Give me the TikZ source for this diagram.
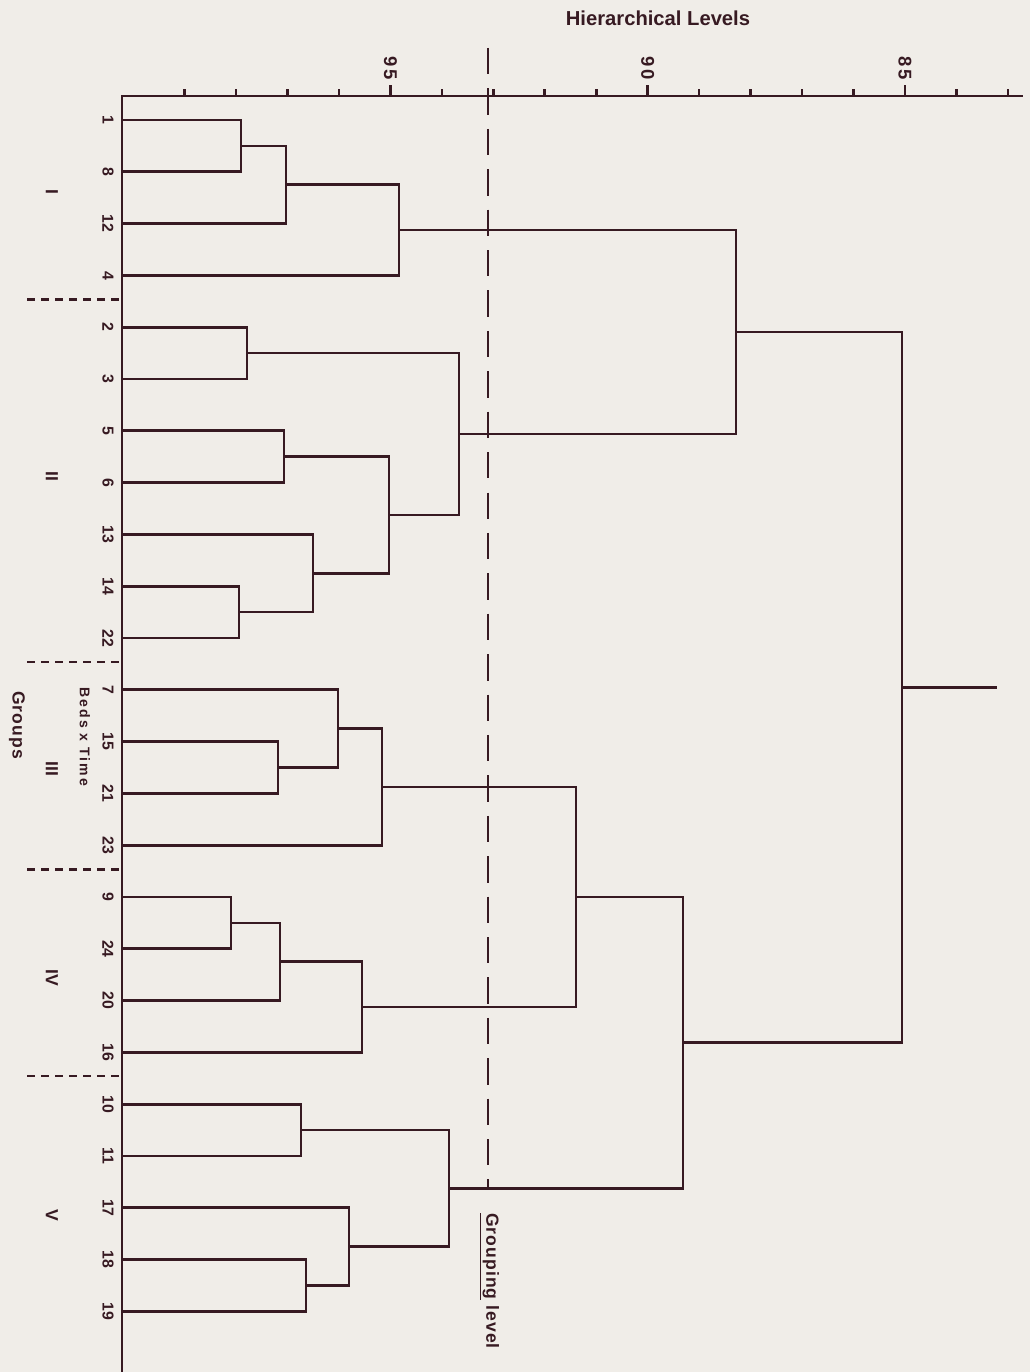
\documentclass[tikz,border=0pt]{standalone}
\usepackage{fontspec}
\setmainfont{Liberation Sans}
\newfontfamily\gapfont{Liberation Sans}[LetterSpace=6]
\newfontfamily\widefont{Liberation Sans}[LetterSpace=14]
\usepackage{xcolor}
\usepackage{tikz}
\usetikzlibrary{calc}
\definecolor{ink}{RGB}{55,26,34}
\definecolor{paper}{RGB}{240,237,232}

\tikzset{
  tree/.style={draw=ink, line width=1.5pt, line cap=rect},
  sepline/.style={draw=ink, line width=1.3pt, dash pattern=on 4.5pt off 3.5pt},
  cutline/.style={draw=ink, line width=1.5pt, dash pattern=on 15pt off 8pt},
  titlelab/.style={text=ink, font=\bfseries\fontsize{11.5}{13}\selectfont},
  levlab/.style={text=ink, rotate=-90, inner sep=0pt, font=\widefont\bfseries\fontsize{10.5}{12}\selectfont},
  leaflab/.style={text=ink, rotate=-90, inner sep=1pt, font=\bfseries\fontsize{9}{10}\selectfont},
  grplab/.style={text=ink, rotate=-90, font=\bfseries\fontsize{10}{11}\selectfont},
  sidelab/.style={text=ink, rotate=-90, font=\gapfont\bfseries\fontsize{10}{11}\selectfont},
}

% join two branches at level x: name, x, branch a, branch b
\newcommand{\joinat}[4]{%
  \path ($(#3)!.5!(#4)$) coordinate (#1c);
  \coordinate (#1) at (#2,0 |- #1c);
  \draw[tree] (#3) -| (#1) |- (#4);
}

\begin{document}
\begin{tikzpicture}[x=0.02cm, y=-0.02cm]
  \fill[paper] (0,0) rectangle (1030,1372);
  \useasboundingbox (0,0) rectangle (1030,1372);

  \node[titlelab] (title) at (658,18) {Hierarchical Levels};

  \coordinate (o) at (122,96);
  \coordinate (axbot) at (122,1372);
  \coordinate (axend) at (1022,96);
  \draw[tree] (axbot) -- (o) -- (axend);
  \foreach \lv in {83,...,99} {
    \pgfmathsetmacro{\tx}{133+(100-\lv)*51.47}
    \draw[tree, line cap=butt] (\tx,96) -- (\tx,89);
  }
  \foreach \lv in {95,90,85} {
    \pgfmathsetmacro{\tx}{133+(100-\lv)*51.47}
    \draw[tree, line cap=butt] (\tx,96) -- (\tx,85);
    \node[levlab] (lv\lv) at (\tx,68) {\lv};
  }

  \foreach \lab [count=\i] in {1,8,12,4,2,3,5,6,13,14,22,7,15,21,23,9,24,20,16,10,11,17,18,19} {
    \pgfmathsetmacro{\ly}{120+(\i-1)*51.8}
    \coordinate (p\lab) at (122,\ly);
    \node[leaflab] (n\lab) at (108,\ly) {\lab};
  }

  \joinat{a}{241}{p1}{p8}
  \joinat{b}{286}{a}{p12}
  \joinat{gI}{399}{b}{p4}
  \joinat{c}{247}{p2}{p3}
  \joinat{d}{284}{p5}{p6}
  \joinat{e}{239}{p14}{p22}
  \joinat{f}{313}{p13}{e}
  \joinat{g}{389}{d}{f}
  \joinat{gII}{459}{c}{g}
  \joinat{h}{736}{gI}{gII}
  \joinat{k}{278}{p15}{p21}
  \joinat{l}{338}{p7}{k}
  \joinat{gIII}{382}{l}{p23}
  \joinat{m}{231}{p9}{p24}
  \joinat{n}{280}{m}{p20}
  \joinat{gIV}{362}{n}{p16}
  \joinat{q}{576}{gIII}{gIV}
  \joinat{r}{301}{p10}{p11}
  \joinat{s}{306}{p18}{p19}
  \joinat{t}{349}{p17}{s}
  \joinat{gV}{449}{r}{t}
  \joinat{u}{683}{q}{gV}
  \joinat{root}{902}{h}{u}
  \coordinate (rootend) at (996,0 |- root);
  \draw[tree] (root) -- (rootend);

  \coordinate (cuttop) at (488,48);
  \coordinate (cutbot) at (488,1189);
  \draw[cutline] (cuttop) -- (cutbot);
  \node[sidelab] (cutlab) at (489,1281) {\underline{Grouping} level};

  \foreach \sy in {299.5,662,869.5,1076}
    \draw[sepline] (27,\sy) -- (122,\sy);

  \foreach \gr/\gy in {I/192, II/476, III/769, IV/978, V/1215}
    \node[grplab] (g\gr lab) at (52,\gy) {\gr};

  \node[sidelab] (groups) at (17,725) {Groups};
  \node[sidelab, font=\widefont\bfseries\fontsize{8}{9}\selectfont] (beds) at (85,737) {Beds x Time};
\end{tikzpicture}
\end{document}
